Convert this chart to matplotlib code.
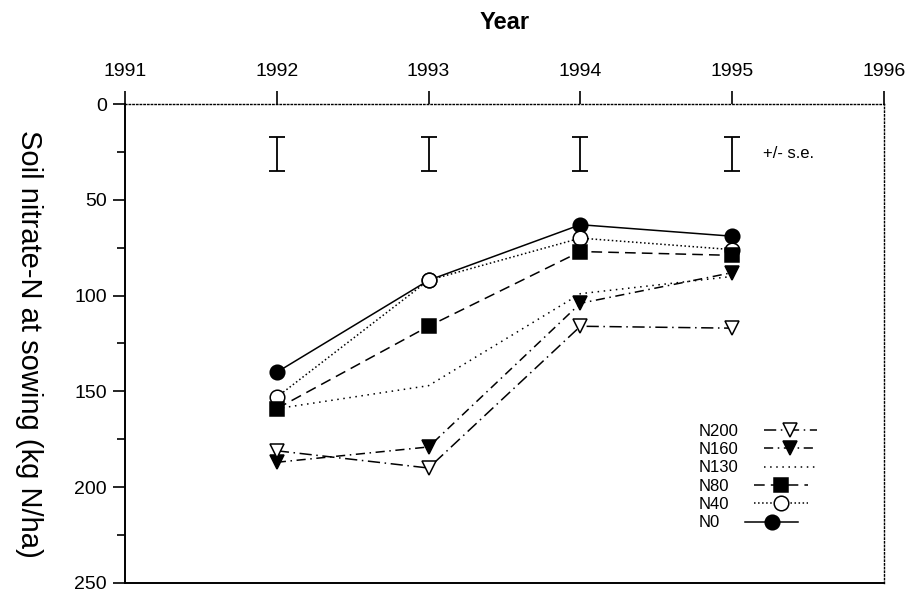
import numpy as np
import matplotlib
matplotlib.use("Agg")
import matplotlib.pyplot as plt

plt.rcParams['font.family'] = ['Liberation Sans', 'DejaVu Sans']

# data (soil nitrate-N at sowing, kg N/ha)
years = [1992, 1993, 1994, 1995]
n0 = [140, 92, 63, 69]
n40 = [153, 92, 70, 76]
n80 = [159, 116, 77, 79]
n130 = [159, 147, 99, 90]
n160 = [187, 179, 104, 88]
n200 = [181, 190, 116, 117]

# error bars drawn near the top of the plot
err_center = [26, 26, 26, 26]
err_half = [9, 9, 9, 9]
err_label = "+/- s.e."

xticks = [1991, 1992, 1993, 1994, 1995, 1996]
yticks = [0, 50, 100, 150, 200, 250]

fig = plt.figure(figsize=(9.11, 5.93), dpi=100)
ax = fig.add_axes([0.1372, 0.0169, 0.8332, 0.8077])

series = [
    ("N0", n0, '-', 'o', 'black'),
    ("N40", n40, ':', 'o', 'white'),
    ("N80", n80, (0, (7, 4)), 's', 'black'),
    ("N130", n130, (0, (1, 3)), None, None),
    ("N160", n160, (0, (6, 3, 1, 3)), 'v', 'black'),
    ("N200", n200, (0, (8, 3, 1, 3)), 'v', 'white'),
]

handles = {}
for name, vals, ls, mk, fc in series:
    h, = ax.plot(years, vals, linestyle=ls, color='black', linewidth=1.1,
                 marker=mk, markersize=10.5, markerfacecolor=fc,
                 markeredgecolor='black', markeredgewidth=1.1, label=name)
    handles[name] = h

ax.errorbar(years, err_center, yerr=err_half, fmt='none', ecolor='black',
            elinewidth=1.3, capsize=5.5, capthick=1.3)
ax.text(1995.2, err_center[-1], err_label, fontsize=12, va='center', ha='left')

ax.set_xlim(1991, 1996)
ax.set_ylim(250, 0)
ax.set_xticks(xticks)
ax.set_yticks(yticks)
ax.set_yticks(np.arange(25, 250, 50), minor=True)
ax.xaxis.tick_top()
ax.xaxis.set_label_position('top')
ax.tick_params(axis='x', direction='out', labelsize=14, length=9.5, width=1.2, pad=8)
ax.tick_params(axis='y', direction='out', labelsize=14, length=9, width=1.2, pad=4)
ax.tick_params(axis='y', which='minor', direction='out', length=6, width=1.2)
ax.set_xlabel("Year", fontsize=17, fontweight='bold', va='center')
ax.xaxis.set_label_coords(0.5, 1.171)
ax.set_ylabel("Soil nitrate-N at sowing (kg N/ha)", fontsize=21, rotation=-90,
              va='center', ha='center')
ax.yaxis.set_label_coords(-0.127, 0.5)

ax.spines['left'].set_linewidth(1.4)
ax.spines['bottom'].set_linewidth(1.4)
ax.spines['top'].set_linestyle(':')
ax.spines['top'].set_linewidth(1.0)
ax.spines['right'].set_linestyle(':')
ax.spines['right'].set_linewidth(1.0)

order = ["N200", "N160", "N130", "N80", "N40", "N0"]
leg = ax.legend([handles[k] for k in order], order, loc='upper left',
                bbox_to_anchor=(0.745, 0.35), frameon=False, markerfirst=False,
                fontsize=12, labelspacing=0.2, handlelength=3.2,
                handletextpad=1.5, borderpad=0)
# rows start at the same left edge, as in the original
for col in leg._legend_handle_box.get_children():
    col.align = 'left'

fig.savefig("out.png", dpi=100)
